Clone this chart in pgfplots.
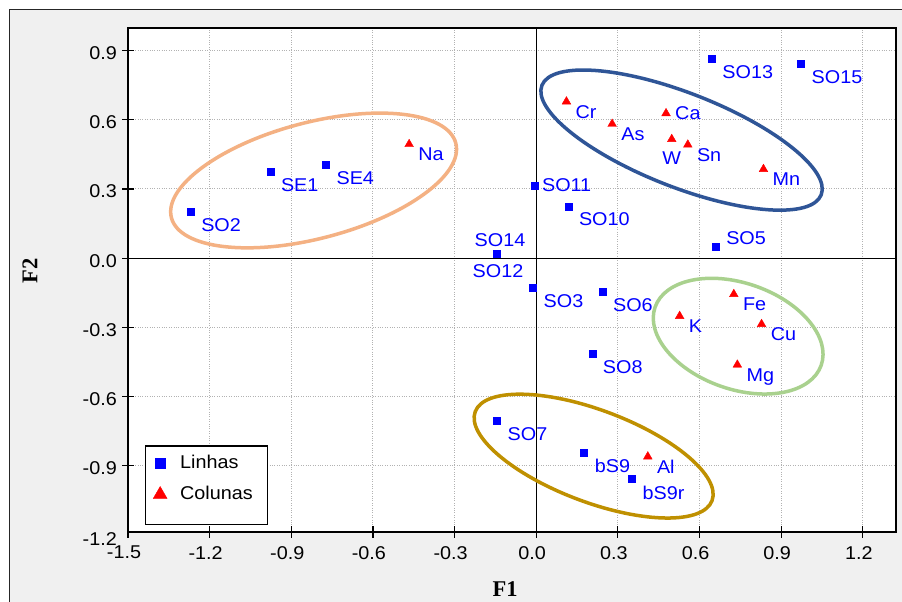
\documentclass[border=0pt]{standalone}
\usepackage{pgfplots}
\pgfplotsset{compat=1.18}
\usepackage{fontspec}
\setmainfont{Liberation Sans}[FakeStretch=1.07]
\newfontfamily\titlefont{Liberation Serif}
\definecolor{ptblue}{HTML}{0000FF}
\definecolor{ptred}{HTML}{FF0000}
\definecolor{ellorange}{HTML}{F4B183}
\definecolor{ellblue}{HTML}{2F5597}
\definecolor{ellgreen}{HTML}{A9D18E}
\definecolor{ellgold}{HTML}{BF9000}
\definecolor{panel}{HTML}{F0F0F0}
\newcommand\lblfont{\fontsize{18.5}{20}\selectfont}

\pgfplotstableread{
x y label
-1.270 0.202 SO2
-0.977 0.373 SE1
-0.773 0.406 SE4
0.645 0.865 SO13
0.973 0.844 SO15
0.118 0.225 SO10
-0.012 -0.130 SO3
0.243 -0.147 SO6
0.206 -0.415 SO8
-0.144 -0.706 SO7
0.176 -0.843 bS9
0.352 -0.957 bS9r
}\linhasA

\pgfplotstableread{
x y label
-0.467 0.494 Na
0.111 0.679 Cr
0.279 0.582 As
0.557 0.492 Sn
0.835 0.386 Mn
0.726 -0.156 Fe
0.527 -0.251 K
0.828 -0.286 Cu
0.739 -0.462 Mg
0.410 -0.860 Al
}\colunasA

\begin{document}
\begin{tikzpicture}
\fill[white] (0pt,0pt) rectangle (902pt,602pt);
\fill[panel] (9pt,0pt) rectangle (902pt,593pt);
\draw[line width=1pt, black!85] (9.5pt,0pt) -- (9.5pt,592.5pt) -- (902pt,592.5pt);
\begin{axis}[
  at={(128pt,70pt)}, anchor=south west,
  scale only axis, width=768pt, height=504pt,
  xmin=-1.5, xmax=1.322, ymin=-1.187, ymax=0.998,
  clip=false,
  axis background/.style={fill=white},
  axis line style={line width=1.3pt},
  xtick={-1.5,-1.2,-0.9,-0.6,-0.3,0,0.3,0.6,0.9,1.2},
  xticklabels={-1.5,-1.2,-0.9,-0.6,-0.3,0.0,0.3,0.6,0.9,1.2},
  ytick={-0.9,-0.6,-0.3,0,0.3,0.6,0.9},
  yticklabels={-0.9,-0.6,-0.3,0.0,0.3,0.6,0.9},
  tick align=center, major tick length=12pt,
  tick style={line width=1.2pt, black},
  xtick pos=bottom, ytick pos=left,
  grid=major,
  major grid style={dotted, line width=1pt, black!30},
  ticklabel style={font=\lblfont, inner sep=0pt},
  xticklabel style={anchor=north, yshift=-8pt, xshift=-4pt},
  yticklabel style={anchor=east, xshift=-5pt, yshift=-2.5pt},
  legend style={draw=none, fill=none, at={(axis cs:-1.419,-0.835)}, anchor=north west,
    font=\lblfont, row sep=10pt, nodes={inner sep=2pt, text height=13pt, text depth=4pt}},
  legend cell align=left,
]
% zero lines
\draw[black, line width=1.3pt] (axis cs:0,-1.187) -- (axis cs:0,0.998);
\draw[black, line width=1.3pt] (axis cs:-1.5,0) -- (axis cs:1.322,0);
% ellipses
\draw[ellorange, line width=3.5pt, rotate around={14.7:(axis cs:-0.818,0.337)}] (axis cs:-0.818,0.337) ellipse [x radius=147pt, y radius=58pt];
\draw[ellblue, line width=3.5pt, rotate around={-21.4:(axis cs:0.534,0.512)}] (axis cs:0.534,0.512) ellipse [x radius=150pt, y radius=47pt];
\draw[ellgreen, line width=3.5pt, rotate around={-19.3:(axis cs:0.742,-0.338)}] (axis cs:0.742,-0.338) ellipse [x radius=88pt, y radius=53pt];
\draw[ellgold, line width=3.5pt, rotate around={-20.6:(axis cs:0.211,-0.858)}] (axis cs:0.211,-0.858) ellipse [x radius=126.5pt, y radius=46pt];
% legend box
\draw[line width=1.2pt, fill=white] (axis cs:-1.435,-0.814) rectangle (axis cs:-0.988,-1.156);

\addlegendimage{only marks, mark=square*, color=ptblue, mark size=5pt}
\addlegendentry{\hspace{11pt}Linhas}
\addlegendimage{only marks, mark=triangle*, color=ptred, mark size=8pt}
\addlegendentry{\hspace{11pt}Colunas}

% Linhas
\addplot[forget plot, only marks, mark=square*, color=ptblue, mark size=3.5pt,
  point meta=explicit symbolic, nodes near coords,
  nodes near coords style={anchor=north west, xshift=10.5pt, yshift=-6.5pt, font=\lblfont, text=ptblue, inner sep=0pt}]
  table[meta=label] {\linhasA};
\addplot[forget plot, only marks, mark=square*, color=ptblue, mark size=3.5pt,
  point meta=explicit symbolic, nodes near coords,
  nodes near coords style={anchor=south, yshift=7pt, xshift=3pt, font=\lblfont, text=ptblue, inner sep=0pt}]
  table[meta=label] {
x y label
-0.144 0.020 SO14
};
\addplot[forget plot, only marks, mark=square*, color=ptblue, mark size=3.5pt,
  point meta=explicit symbolic, nodes near coords,
  nodes near coords style={anchor=north, yshift=-11pt, xshift=1pt, font=\lblfont, text=ptblue, inner sep=0pt}]
  table[meta=label] {
x y label
-0.144 0.020 SO12
};
\addplot[forget plot, only marks, mark=square*, color=ptblue, mark size=3.5pt,
  point meta=explicit symbolic, nodes near coords,
  nodes near coords style={anchor=west, xshift=7pt, font=\lblfont, text=ptblue, inner sep=0pt}]
  table[meta=label] {
x y label
-0.005 0.316 SO11
};
\addplot[forget plot, only marks, mark=square*, color=ptblue, mark size=3.5pt,
  point meta=explicit symbolic, nodes near coords,
  nodes near coords style={anchor=west, xshift=10.5pt, yshift=8.3pt, font=\lblfont, text=ptblue, inner sep=0pt}]
  table[meta=label] {
x y label
0.659 0.049 SO5
};
% Colunas
\addplot[forget plot, only marks, mark=triangle*, color=ptred, mark size=5pt,
  point meta=explicit symbolic, nodes near coords,
  nodes near coords style={anchor=north west, xshift=9pt, yshift=-3.5pt, font=\lblfont, text=ptblue, inner sep=0pt}]
  table[meta=label] {\colunasA};
\addplot[forget plot, only marks, mark=triangle*, color=ptred, mark size=5pt,
  point meta=explicit symbolic, nodes near coords,
  nodes near coords style={anchor=west, xshift=9pt, font=\lblfont, text=ptblue, inner sep=0pt}]
  table[meta=label] {
x y label
0.477 0.628 Ca
};
\addplot[forget plot, only marks, mark=triangle*, color=ptred, mark size=5pt,
  point meta=explicit symbolic, nodes near coords,
  nodes near coords style={anchor=north, yshift=-12pt, font=\lblfont, text=ptblue, inner sep=0pt}]
  table[meta=label] {
x y label
0.498 0.516 W
};
\end{axis}
% extra bottom y label and axis titles
\node[anchor=east, font=\lblfont, inner sep=0pt] at (117pt,63pt) {-1.2};
\node[font=\titlefont\bfseries\fontsize{22.5}{24}\selectfont] at (505pt,13.3pt) {F1};
\node[rotate=90, font=\titlefont\bfseries\fontsize{22.5}{24}\selectfont] at (30pt,331pt) {F2};
\pgfresetboundingbox
\useasboundingbox (0pt,0pt) rectangle (902pt,602pt);
\end{tikzpicture}
\end{document}
